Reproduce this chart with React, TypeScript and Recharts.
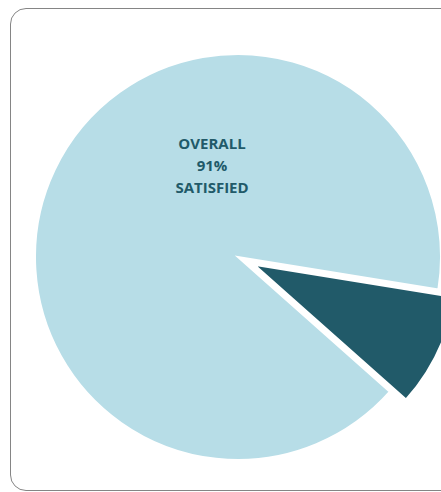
import { Cell, Pie, PieChart } from "recharts";

const CATEGORIES = ["Satisfied", "Not satisfied"];
const VALUES = [91, 9];
const LABEL_LINES = ["OVERALL", "91%", "SATISFIED"];

const COLORS = ["#b7dde7", "#215a69"];
const EXPLODED = 1; // index of the pulled-out slice

const W = 441;
const H = 492;
const CX = 238;
const CY = 257;
const R = 203;
const START = -9.2;
const OFFSET = 18;

const data = CATEGORIES.map((name, i) => ({ name, value: VALUES[i] }));

// middle angle of the exploded slice, for the offset direction
const total = VALUES.reduce((s, v) => s + v, 0);
const before = VALUES.slice(0, EXPLODED).reduce((s, v) => s + v, 0);
const midAngle = START + ((before + VALUES[EXPLODED] / 2) / total) * 360;
const rad = (midAngle * Math.PI) / 180;
const ex = CX + OFFSET * Math.cos(rad);
const ey = CY - OFFSET * Math.sin(rad);

export default function App() {
  return (
    <div
      style={{
        position: "absolute",
        left: 0,
        top: 0,
        width: W,
        height: H,
        overflow: "hidden",
        background: "#fff",
      }}
    >
      <div
        style={{
          position: "absolute",
          left: 10,
          top: 8,
          width: 460,
          height: 481,
          border: "1.5px solid #858585",
          borderRadius: 16,
        }}
      />
      <div style={{ position: "absolute", left: 0, top: 0 }}>
        <PieChart width={W} height={H} margin={{ top: 0, right: 0, bottom: 0, left: 0 }}>
          <Pie
            data={data}
            dataKey="value"
            nameKey="name"
            cx={CX}
            cy={CY}
            innerRadius={0}
            outerRadius={R}
            startAngle={START}
            endAngle={START + 360}
            isAnimationActive={false}
          >
            {data.map((d, i) => (
              <Cell
                key={d.name}
                fill={i === EXPLODED ? "transparent" : COLORS[i]}
                stroke={i === EXPLODED ? "none" : "#fff"}
                strokeWidth={2}
              />
            ))}
          </Pie>
          <Pie
            data={data}
            dataKey="value"
            nameKey="name"
            cx={ex}
            cy={ey}
            innerRadius={0}
            outerRadius={R}
            startAngle={START}
            endAngle={START + 360}
            isAnimationActive={false}
          >
            {data.map((d, i) => (
              <Cell
                key={d.name}
                fill={i === EXPLODED ? COLORS[i] : "transparent"}
                stroke={i === EXPLODED ? "#fff" : "none"}
                strokeWidth={2}
              />
            ))}
          </Pie>
        </PieChart>
      </div>
      <div
        style={{
          position: "absolute",
          left: 142,
          top: 132,
          width: 140,
          textAlign: "center",
          fontFamily: "'Open Sans', sans-serif",
          fontWeight: 700,
          fontSize: 15,
          lineHeight: "22px",
          color: "#215a69",
        }}
      >
        {LABEL_LINES.map((l) => (
          <div key={l}>{l}</div>
        ))}
      </div>
    </div>
  );
}
